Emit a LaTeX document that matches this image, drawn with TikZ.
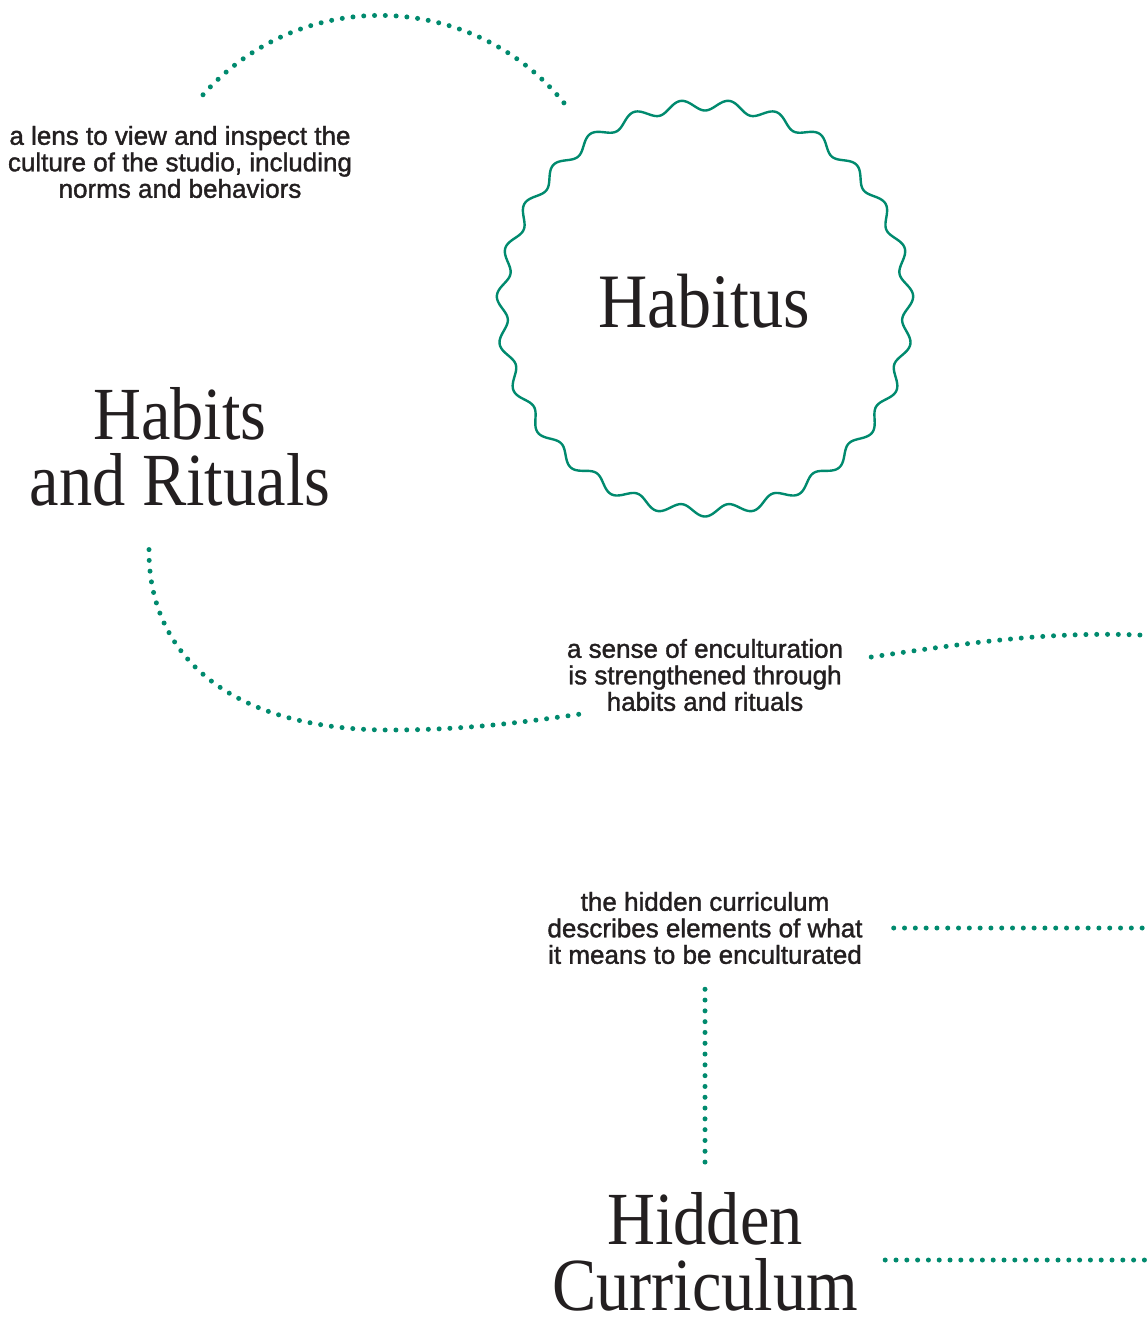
\documentclass[tikz,border=0pt]{standalone}
\usepackage{fontspec}
\setmainfont{Liberation Serif}
\newfontfamily\titlefamily[FakeStretch=0.885]{Liberation Serif}
\newfontfamily\notefamily[FakeBold=1.4]{Liberation Sans}
\definecolor{habgreen}{HTML}{008A6E}
\definecolor{ink}{HTML}{231F20}

\begin{document}
\begin{tikzpicture}[x=1pt, y=-1pt,
    note/.style={font=\notefamily\fontsize{26}{26.5}\selectfont, align=center, inner sep=0pt, text=ink},
    title/.style={font=\titlefamily\fontsize{75}{66}\selectfont, align=center, inner sep=0pt, text=ink},
    dots/.style={draw=habgreen, line width=5pt, line cap=round, dash pattern=on 0pt off 10.8pt},
    wavy/.style={draw=habgreen, line width=2.4pt, line join=round}]

                \fill[white] (0,0) rectangle (1147,1319);
                \useasboundingbox (0,0) rectangle (1147,1319);

                % Labels and titles
                \node[note] (lens) at (180,162) {a lens to view and inspect the\\culture of the studio, including\\norms and behaviors};
                \node[title, font=\titlefamily\fontsize{77}{66}\selectfont] (habitus) at (704,301) {Habitus};
                \node[title] (rituals) at (180,447) {Habits\\and Rituals};
                \node[note] (sense) at (705,675) {a sense of enculturation\\is strengthened through\\habits and rituals};
                \node[note] (hcdesc) at (705,928) {the hidden curriculum\\describes elements of what\\it means to be enculturated};
                \node[title] (hidden) at (705,1252) {Hidden\\Curriculum};

                % Wavy ring round Habitus
                \coordinate (ring) at (705,308);
                \begin{scope}[shift={(705,308)}]
                \draw[wavy] plot[domain=0:360, samples=721, variable=\t] (\t:{203+5.5*cos(27*(\t-90))}) -- cycle;
                \end{scope}

                % Free ends beyond the right border
                \coordinate (edge) at (1152,0);
                \coordinate (senseout) at (1160,636);

                % Dotted connectors
                \draw[dots] ([shift={(23,-31)}]lens.north) .. controls (303,-17) and (478,-9) .. ([shift={(-137,-200)}]ring);
                \draw[dots] ([shift={(-31,43)}]rituals.south) .. controls (148,655) and (230,730) .. (390,730)
                    .. controls (470,730) and (532,721) .. ([shift={(19,2)}]sense.south west);
                \draw[dots] ([shift={(28,-18)}]sense.east) .. controls (980,641) and (1060,630) .. (senseout);
                \draw[dots] ([xshift=31pt]hcdesc.east) -- (hcdesc.east -| edge);
                \draw[dots, shorten <=25pt, shorten >=22pt] (hcdesc.south) -- (hidden.north);
                \draw[dots] ([shift={(27,8)}]hidden.east) -- ([yshift=-8pt]hidden.east -| edge);

\end{tikzpicture}
\end{document}
